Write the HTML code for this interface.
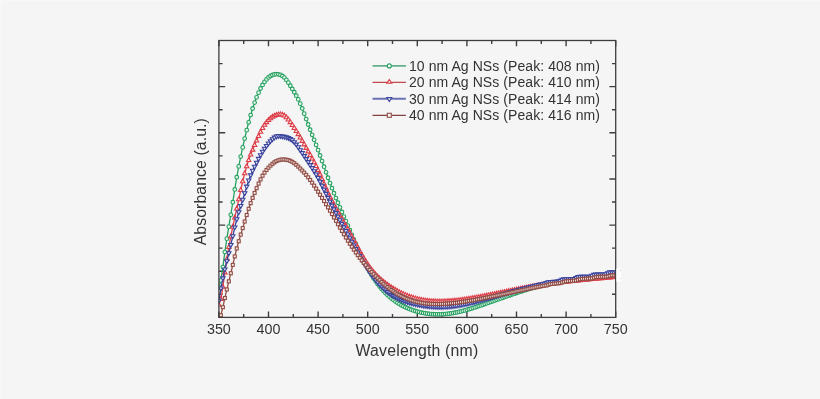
<!DOCTYPE html>
<html><head><meta charset="utf-8"><style>
html,body{margin:0;padding:0;background:#f5f5f5;width:820px;height:399px;overflow:hidden}
svg{position:absolute;left:0;top:0;will-change:transform} svg text{font-family:"Liberation Sans",sans-serif}
</style></head><body>
<svg width="820" height="399" viewBox="0 0 820 399">
<defs><clipPath id="pc"><rect x="218.9" y="40.5" width="396.8" height="276.9"/></clipPath></defs>
<path d="M218.9,317.4v-5.8M218.9,40.5v5.8M243.7,317.4v-3.4M243.7,40.5v3.4M268.5,317.4v-5.8M268.5,40.5v5.8M293.3,317.4v-3.4M293.3,40.5v3.4M318.1,317.4v-5.8M318.1,40.5v5.8M342.9,317.4v-3.4M342.9,40.5v3.4M367.7,317.4v-5.8M367.7,40.5v5.8M392.5,317.4v-3.4M392.5,40.5v3.4M417.3,317.4v-5.8M417.3,40.5v5.8M442.1,317.4v-3.4M442.1,40.5v3.4M466.9,317.4v-5.8M466.9,40.5v5.8M491.7,317.4v-3.4M491.7,40.5v3.4M516.5,317.4v-5.8M516.5,40.5v5.8M541.3,317.4v-3.4M541.3,40.5v3.4M566.1,317.4v-5.8M566.1,40.5v5.8M590.9,317.4v-3.4M590.9,40.5v3.4M615.7,317.4v-5.8M615.7,40.5v5.8M218.9,63.58h3.7M615.7,63.58h-3.7M218.9,86.65h6.3M615.7,86.65h-6.3M218.9,109.72h3.7M615.7,109.72h-3.7M218.9,132.8h6.3M615.7,132.8h-6.3M218.9,155.88h3.7M615.7,155.88h-3.7M218.9,178.95h6.3M615.7,178.95h-6.3M218.9,202.02h3.7M615.7,202.02h-3.7M218.9,225.1h6.3M615.7,225.1h-6.3M218.9,248.17h3.7M615.7,248.17h-3.7M218.9,271.25h6.3M615.7,271.25h-6.3M218.9,294.32h3.7M615.7,294.32h-3.7" stroke="#3e3e3e" stroke-width="1.4" fill="none"/>
<g clip-path="url(#pc)">
<path d="M218.9,287.4L220.88,280.38L222.87,267.12L224.85,252.04L226.84,238.65L228.82,226.65L230.8,214.8L232.79,202.23L234.77,189.43L236.76,177.27L238.74,166.38L240.72,156.57L242.71,147.41L244.69,138.59L246.68,130.16L248.66,122.28L250.64,115.06L252.63,108.52L254.61,102.62L256.6,97.33L258.58,92.63L260.56,88.5L262.55,84.93L264.53,81.91L266.52,79.42L268.5,77.44L270.48,75.98L272.47,74.98L274.45,74.4L276.44,74.2L278.42,74.34L280.4,74.9L282.39,75.96L284.37,77.6L286.36,79.88L288.34,82.65L290.32,85.75L292.31,88.99L294.29,92.27L296.28,95.68L298.26,99.41L300.24,103.63L302.23,108.43L304.21,113.66L306.2,119.1L308.18,124.51L310.16,129.74L312.15,134.81L314.13,139.83L316.12,144.89L318.1,150.1L320.08,155.51L322.07,161.07L324.05,166.69L326.04,172.29L328.02,177.77L330,183.08L331.99,188.21L333.97,193.18L335.96,198.03L337.94,202.77L339.92,207.42L341.91,212.02L343.89,216.57L345.88,221.11L347.86,225.66L349.84,230.22L351.83,234.79L353.81,239.34L355.8,243.85L357.78,248.29L359.76,252.63L361.75,256.85L363.73,260.92L365.72,264.82L367.7,268.53L369.68,272.03L371.67,275.31L373.65,278.4L375.64,281.28L377.62,283.99L379.6,286.52L381.59,288.88L383.57,291.09L385.56,293.15L387.54,295.08L389.52,296.87L391.51,298.54L393.49,300.09L395.48,301.53L397.46,302.86L399.44,304.09L401.43,305.23L403.41,306.27L405.4,307.24L407.38,308.12L409.36,308.94L411.35,309.69L413.33,310.38L415.32,311.01L417.3,311.58L419.28,312.1L421.27,312.56L423.25,312.97L425.24,313.32L427.22,313.63L429.2,313.87L431.19,314.07L433.17,314.22L435.16,314.32L437.14,314.36L439.12,314.36L441.11,314.31L443.09,314.21L445.08,314.07L447.06,313.88L449.04,313.64L451.03,313.37L453.01,313.05L455,312.69L456.98,312.29L458.96,311.86L460.95,311.4L462.93,310.9L464.92,310.38L466.9,309.83L468.88,309.26L470.87,308.67L472.85,308.05L474.84,307.42L476.82,306.77L478.8,306.11L480.79,305.44L482.77,304.76L484.76,304.07L486.74,303.37L488.72,302.67L490.71,301.97L492.69,301.27L494.68,300.57L496.66,299.87L498.64,299.17L500.63,298.46L502.61,297.76L504.6,297.07L506.58,296.37L508.56,295.69L510.55,295L512.53,294.32L514.52,293.65L516.5,292.98L518.48,292.33L520.47,291.68L522.45,291.03L524.44,290.4L526.42,289.78L528.4,289.17L530.39,288.57L532.37,287.99L534.36,287.42L536.34,286.86L538.32,286.31L540.31,285.78L542.29,285.27L544.28,284.78L546.26,284.3L548.24,283.84L550.23,283.39L552.21,282.97L554.2,282.56L556.18,282.16L558.16,281.78L560.15,281.41L562.13,281.06L564.12,280.72L566.1,280.39L568.08,280.07L570.07,279.76L572.05,279.46L574.04,279.17L576.02,278.89L578,278.62L579.99,278.35L581.97,278.09L583.96,277.83L585.94,277.58L587.92,277.33L589.91,277.08L591.89,276.84L593.88,276.6L595.86,276.36L597.84,276.12L599.83,275.88L601.81,275.64L603.8,275.39L605.78,275.15L607.76,274.9L609.75,274.64L611.73,274.38L613.72,274.12L615.7,273.85" fill="none" stroke="#26a060" stroke-width="1.3"/>
<g fill="#e6f7ec" stroke="#26a060" stroke-width="1.1"><circle cx="218.9" cy="287.4" r="1.85"/><circle cx="220.88" cy="280.38" r="1.85"/><circle cx="222.87" cy="267.12" r="1.85"/><circle cx="224.85" cy="252.04" r="1.85"/><circle cx="226.84" cy="238.65" r="1.85"/><circle cx="228.82" cy="226.65" r="1.85"/><circle cx="230.8" cy="214.8" r="1.85"/><circle cx="232.79" cy="202.23" r="1.85"/><circle cx="234.77" cy="189.43" r="1.85"/><circle cx="236.76" cy="177.27" r="1.85"/><circle cx="238.74" cy="166.38" r="1.85"/><circle cx="240.72" cy="156.57" r="1.85"/><circle cx="242.71" cy="147.41" r="1.85"/><circle cx="244.69" cy="138.59" r="1.85"/><circle cx="246.68" cy="130.16" r="1.85"/><circle cx="248.66" cy="122.28" r="1.85"/><circle cx="250.64" cy="115.06" r="1.85"/><circle cx="252.63" cy="108.52" r="1.85"/><circle cx="254.61" cy="102.62" r="1.85"/><circle cx="256.6" cy="97.33" r="1.85"/><circle cx="258.58" cy="92.63" r="1.85"/><circle cx="260.56" cy="88.5" r="1.85"/><circle cx="262.55" cy="84.93" r="1.85"/><circle cx="264.53" cy="81.91" r="1.85"/><circle cx="266.52" cy="79.42" r="1.85"/><circle cx="268.5" cy="77.44" r="1.85"/><circle cx="270.48" cy="75.98" r="1.85"/><circle cx="272.47" cy="74.98" r="1.85"/><circle cx="274.45" cy="74.4" r="1.85"/><circle cx="276.44" cy="74.2" r="1.85"/><circle cx="278.42" cy="74.34" r="1.85"/><circle cx="280.4" cy="74.9" r="1.85"/><circle cx="282.39" cy="75.96" r="1.85"/><circle cx="284.37" cy="77.6" r="1.85"/><circle cx="286.36" cy="79.88" r="1.85"/><circle cx="288.34" cy="82.65" r="1.85"/><circle cx="290.32" cy="85.75" r="1.85"/><circle cx="292.31" cy="88.99" r="1.85"/><circle cx="294.29" cy="92.27" r="1.85"/><circle cx="296.28" cy="95.68" r="1.85"/><circle cx="298.26" cy="99.41" r="1.85"/><circle cx="300.24" cy="103.63" r="1.85"/><circle cx="302.23" cy="108.43" r="1.85"/><circle cx="304.21" cy="113.66" r="1.85"/><circle cx="306.2" cy="119.1" r="1.85"/><circle cx="308.18" cy="124.51" r="1.85"/><circle cx="310.16" cy="129.74" r="1.85"/><circle cx="312.15" cy="134.81" r="1.85"/><circle cx="314.13" cy="139.83" r="1.85"/><circle cx="316.12" cy="144.89" r="1.85"/><circle cx="318.1" cy="150.1" r="1.85"/><circle cx="320.08" cy="155.51" r="1.85"/><circle cx="322.07" cy="161.07" r="1.85"/><circle cx="324.05" cy="166.69" r="1.85"/><circle cx="326.04" cy="172.29" r="1.85"/><circle cx="328.02" cy="177.77" r="1.85"/><circle cx="330" cy="183.08" r="1.85"/><circle cx="331.99" cy="188.21" r="1.85"/><circle cx="333.97" cy="193.18" r="1.85"/><circle cx="335.96" cy="198.03" r="1.85"/><circle cx="337.94" cy="202.77" r="1.85"/><circle cx="339.92" cy="207.42" r="1.85"/><circle cx="341.91" cy="212.02" r="1.85"/><circle cx="343.89" cy="216.57" r="1.85"/><circle cx="345.88" cy="221.11" r="1.85"/><circle cx="347.86" cy="225.66" r="1.85"/><circle cx="349.84" cy="230.22" r="1.85"/><circle cx="351.83" cy="234.79" r="1.85"/><circle cx="353.81" cy="239.34" r="1.85"/><circle cx="355.8" cy="243.85" r="1.85"/><circle cx="357.78" cy="248.29" r="1.85"/><circle cx="359.76" cy="252.63" r="1.85"/><circle cx="361.75" cy="256.85" r="1.85"/><circle cx="363.73" cy="260.92" r="1.85"/><circle cx="365.72" cy="264.82" r="1.85"/><circle cx="367.7" cy="268.53" r="1.85"/><circle cx="369.68" cy="272.03" r="1.85"/><circle cx="371.67" cy="275.31" r="1.85"/><circle cx="373.65" cy="278.4" r="1.85"/><circle cx="375.64" cy="281.28" r="1.85"/><circle cx="377.62" cy="283.99" r="1.85"/><circle cx="379.6" cy="286.52" r="1.85"/><circle cx="381.59" cy="288.88" r="1.85"/><circle cx="383.57" cy="291.09" r="1.85"/><circle cx="385.56" cy="293.15" r="1.85"/><circle cx="387.54" cy="295.08" r="1.85"/><circle cx="389.52" cy="296.87" r="1.85"/><circle cx="391.51" cy="298.54" r="1.85"/><circle cx="393.49" cy="300.09" r="1.85"/><circle cx="395.48" cy="301.53" r="1.85"/><circle cx="397.46" cy="302.86" r="1.85"/><circle cx="399.44" cy="304.09" r="1.85"/><circle cx="401.43" cy="305.23" r="1.85"/><circle cx="403.41" cy="306.27" r="1.85"/><circle cx="405.4" cy="307.24" r="1.85"/><circle cx="407.38" cy="308.12" r="1.85"/><circle cx="409.36" cy="308.94" r="1.85"/><circle cx="411.35" cy="309.69" r="1.85"/><circle cx="413.33" cy="310.38" r="1.85"/><circle cx="415.32" cy="311.01" r="1.85"/><circle cx="417.3" cy="311.58" r="1.85"/><circle cx="419.28" cy="312.1" r="1.85"/><circle cx="421.27" cy="312.56" r="1.85"/><circle cx="423.25" cy="312.97" r="1.85"/><circle cx="425.24" cy="313.32" r="1.85"/><circle cx="427.22" cy="313.63" r="1.85"/><circle cx="429.2" cy="313.87" r="1.85"/><circle cx="431.19" cy="314.07" r="1.85"/><circle cx="433.17" cy="314.22" r="1.85"/><circle cx="435.16" cy="314.32" r="1.85"/><circle cx="437.14" cy="314.36" r="1.85"/><circle cx="439.12" cy="314.36" r="1.85"/><circle cx="441.11" cy="314.31" r="1.85"/><circle cx="443.09" cy="314.21" r="1.85"/><circle cx="445.08" cy="314.07" r="1.85"/><circle cx="447.06" cy="313.88" r="1.85"/><circle cx="449.04" cy="313.64" r="1.85"/><circle cx="451.03" cy="313.37" r="1.85"/><circle cx="453.01" cy="313.05" r="1.85"/><circle cx="455" cy="312.69" r="1.85"/><circle cx="456.98" cy="312.29" r="1.85"/><circle cx="458.96" cy="311.86" r="1.85"/><circle cx="460.95" cy="311.4" r="1.85"/><circle cx="462.93" cy="310.9" r="1.85"/><circle cx="464.92" cy="310.38" r="1.85"/><circle cx="466.9" cy="309.83" r="1.85"/><circle cx="468.88" cy="309.26" r="1.85"/><circle cx="470.87" cy="308.67" r="1.85"/><circle cx="472.85" cy="308.05" r="1.85"/><circle cx="474.84" cy="307.42" r="1.85"/><circle cx="476.82" cy="306.77" r="1.85"/><circle cx="478.8" cy="306.11" r="1.85"/><circle cx="480.79" cy="305.44" r="1.85"/><circle cx="482.77" cy="304.76" r="1.85"/><circle cx="484.76" cy="304.07" r="1.85"/><circle cx="486.74" cy="303.37" r="1.85"/><circle cx="488.72" cy="302.67" r="1.85"/><circle cx="490.71" cy="301.97" r="1.85"/><circle cx="492.69" cy="301.27" r="1.85"/><circle cx="494.68" cy="300.57" r="1.85"/><circle cx="496.66" cy="299.87" r="1.85"/><circle cx="498.64" cy="299.17" r="1.85"/><circle cx="500.63" cy="298.46" r="1.85"/><circle cx="502.61" cy="297.76" r="1.85"/><circle cx="504.6" cy="297.07" r="1.85"/><circle cx="506.58" cy="296.37" r="1.85"/><circle cx="508.56" cy="295.69" r="1.85"/><circle cx="510.55" cy="295" r="1.85"/><circle cx="512.53" cy="294.32" r="1.85"/><circle cx="514.52" cy="293.65" r="1.85"/><circle cx="516.5" cy="292.98" r="1.85"/><circle cx="518.48" cy="292.33" r="1.85"/><circle cx="520.47" cy="291.68" r="1.85"/><circle cx="522.45" cy="291.03" r="1.85"/><circle cx="524.44" cy="290.4" r="1.85"/><circle cx="526.42" cy="289.78" r="1.85"/><circle cx="528.4" cy="289.17" r="1.85"/><circle cx="530.39" cy="288.57" r="1.85"/><circle cx="532.37" cy="287.99" r="1.85"/><circle cx="534.36" cy="287.42" r="1.85"/><circle cx="536.34" cy="286.86" r="1.85"/><circle cx="538.32" cy="286.31" r="1.85"/><circle cx="540.31" cy="285.78" r="1.85"/><circle cx="542.29" cy="285.27" r="1.85"/><circle cx="544.28" cy="284.78" r="1.85"/><circle cx="546.26" cy="284.3" r="1.85"/><circle cx="548.24" cy="283.84" r="1.85"/><circle cx="550.23" cy="283.39" r="1.85"/><circle cx="552.21" cy="282.97" r="1.85"/><circle cx="554.2" cy="282.56" r="1.85"/><circle cx="556.18" cy="282.16" r="1.85"/><circle cx="558.16" cy="281.78" r="1.85"/><circle cx="560.15" cy="281.41" r="1.85"/><circle cx="562.13" cy="281.06" r="1.85"/><circle cx="564.12" cy="280.72" r="1.85"/><circle cx="566.1" cy="280.39" r="1.85"/><circle cx="568.08" cy="280.07" r="1.85"/><circle cx="570.07" cy="279.76" r="1.85"/><circle cx="572.05" cy="279.46" r="1.85"/><circle cx="574.04" cy="279.17" r="1.85"/><circle cx="576.02" cy="278.89" r="1.85"/><circle cx="578" cy="278.62" r="1.85"/><circle cx="579.99" cy="278.35" r="1.85"/><circle cx="581.97" cy="278.09" r="1.85"/><circle cx="583.96" cy="277.83" r="1.85"/><circle cx="585.94" cy="277.58" r="1.85"/><circle cx="587.92" cy="277.33" r="1.85"/><circle cx="589.91" cy="277.08" r="1.85"/><circle cx="591.89" cy="276.84" r="1.85"/><circle cx="593.88" cy="276.6" r="1.85"/><circle cx="595.86" cy="276.36" r="1.85"/><circle cx="597.84" cy="276.12" r="1.85"/><circle cx="599.83" cy="275.88" r="1.85"/><circle cx="601.81" cy="275.64" r="1.85"/><circle cx="603.8" cy="275.39" r="1.85"/><circle cx="605.78" cy="275.15" r="1.85"/><circle cx="607.76" cy="274.9" r="1.85"/><circle cx="609.75" cy="274.64" r="1.85"/><circle cx="611.73" cy="274.38" r="1.85"/><circle cx="613.72" cy="274.12" r="1.85"/><circle cx="615.7" cy="273.85" r="1.85"/></g>
<path d="M218.9,304.8L220.88,298.98L222.87,286.84L224.85,272.41L226.84,259.01L228.82,247.11L230.8,236.46L232.79,226.77L234.77,217.62L236.76,208.57L238.74,199.29L240.72,190.07L242.71,181.32L244.69,173.37L246.68,166.27L248.66,160.03L250.64,154.56L252.63,149.67L254.61,145.08L256.6,140.55L258.58,136.05L260.56,131.79L262.55,127.99L264.53,124.79L266.52,122.16L268.5,120.01L270.48,118.26L272.47,116.86L274.45,115.79L276.44,114.99L278.42,114.47L280.4,114.31L282.39,114.65L284.37,115.61L286.36,117.26L288.34,119.49L290.32,122.13L292.31,125L294.29,127.99L296.28,131.05L298.26,134.22L300.24,137.5L302.23,140.89L304.21,144.38L306.2,147.91L308.18,151.45L310.16,154.99L312.15,158.56L314.13,162.23L316.12,166.08L318.1,170.16L320.08,174.51L322.07,179.06L324.05,183.68L326.04,188.27L328.02,192.71L330,196.92L331.99,200.9L333.97,204.7L335.96,208.34L337.94,211.87L339.92,215.32L341.91,218.73L343.89,222.14L345.88,225.58L347.86,229.09L349.84,232.69L351.83,236.36L353.81,240.07L355.8,243.78L357.78,247.47L359.76,251.09L361.75,254.62L363.73,258.01L365.72,261.25L367.7,264.29L369.68,267.11L371.67,269.71L373.65,272.12L375.64,274.34L377.62,276.4L379.6,278.31L381.59,280.09L383.57,281.75L385.56,283.31L387.54,284.78L389.52,286.18L391.51,287.52L393.49,288.78L395.48,289.98L397.46,291.11L399.44,292.17L401.43,293.18L403.41,294.11L405.4,294.99L407.38,295.8L409.36,296.55L411.35,297.24L413.33,297.87L415.32,298.44L417.3,298.95L419.28,299.41L421.27,299.82L423.25,300.18L425.24,300.48L427.22,300.75L429.2,300.96L431.19,301.14L433.17,301.27L435.16,301.36L437.14,301.42L439.12,301.44L441.11,301.43L443.09,301.39L445.08,301.33L447.06,301.23L449.04,301.11L451.03,300.97L453.01,300.8L455,300.61L456.98,300.4L458.96,300.17L460.95,299.93L462.93,299.66L464.92,299.38L466.9,299.09L468.88,298.78L470.87,298.45L472.85,298.12L474.84,297.77L476.82,297.42L478.8,297.05L480.79,296.68L482.77,296.3L484.76,295.92L486.74,295.53L488.72,295.14L490.71,294.74L492.69,294.34L494.68,293.94L496.66,293.54L498.64,293.14L500.63,292.73L502.61,292.33L504.6,291.92L506.58,291.52L508.56,291.12L510.55,290.72L512.53,290.32L514.52,289.92L516.5,289.52L518.48,289.13L520.47,288.74L522.45,288.36L524.44,287.98L526.42,287.6L528.4,287.23L530.39,286.87L532.37,286.51L534.36,286.15L536.34,285.81L538.32,285.47L540.31,285.14L542.29,284.82L544.28,284.51L546.26,284.21L548.24,283.91L550.23,283.63L552.21,283.35L554.2,283.09L556.18,282.83L558.16,282.58L560.15,282.33L562.13,282.1L564.12,281.87L566.1,281.64L568.08,281.42L570.07,281.21L572.05,281L574.04,280.79L576.02,280.59L578,280.4L579.99,280.2L581.97,280.01L583.96,279.82L585.94,279.64L587.92,279.45L589.91,279.27L591.89,279.08L593.88,278.9L595.86,278.72L597.84,278.53L599.83,278.35L601.81,278.16L603.8,277.98L605.78,277.79L607.76,277.6L609.75,277.4L611.73,277.2L613.72,277L615.7,276.79" fill="none" stroke="#dc3e48" stroke-width="1.3"/>
<g fill="#fbe8e8" stroke="#dc3e48" stroke-width="1.1"><path d="M218.9,302.4L221.1,306.25L216.7,306.25Z"/><path d="M220.88,296.58L223.08,300.43L218.68,300.43Z"/><path d="M222.87,284.44L225.07,288.29L220.67,288.29Z"/><path d="M224.85,270.01L227.05,273.86L222.65,273.86Z"/><path d="M226.84,256.61L229.04,260.46L224.64,260.46Z"/><path d="M228.82,244.71L231.02,248.56L226.62,248.56Z"/><path d="M230.8,234.06L233,237.91L228.6,237.91Z"/><path d="M232.79,224.37L234.99,228.22L230.59,228.22Z"/><path d="M234.77,215.22L236.97,219.07L232.57,219.07Z"/><path d="M236.76,206.17L238.96,210.02L234.56,210.02Z"/><path d="M238.74,196.89L240.94,200.74L236.54,200.74Z"/><path d="M240.72,187.67L242.92,191.52L238.52,191.52Z"/><path d="M242.71,178.92L244.91,182.77L240.51,182.77Z"/><path d="M244.69,170.97L246.89,174.82L242.49,174.82Z"/><path d="M246.68,163.87L248.88,167.72L244.48,167.72Z"/><path d="M248.66,157.63L250.86,161.48L246.46,161.48Z"/><path d="M250.64,152.16L252.84,156.01L248.44,156.01Z"/><path d="M252.63,147.27L254.83,151.12L250.43,151.12Z"/><path d="M254.61,142.68L256.81,146.53L252.41,146.53Z"/><path d="M256.6,138.15L258.8,142L254.4,142Z"/><path d="M258.58,133.65L260.78,137.5L256.38,137.5Z"/><path d="M260.56,129.39L262.76,133.24L258.36,133.24Z"/><path d="M262.55,125.59L264.75,129.44L260.35,129.44Z"/><path d="M264.53,122.39L266.73,126.24L262.33,126.24Z"/><path d="M266.52,119.76L268.72,123.61L264.32,123.61Z"/><path d="M268.5,117.61L270.7,121.46L266.3,121.46Z"/><path d="M270.48,115.86L272.68,119.71L268.28,119.71Z"/><path d="M272.47,114.46L274.67,118.31L270.27,118.31Z"/><path d="M274.45,113.39L276.65,117.24L272.25,117.24Z"/><path d="M276.44,112.59L278.64,116.44L274.24,116.44Z"/><path d="M278.42,112.07L280.62,115.92L276.22,115.92Z"/><path d="M280.4,111.91L282.6,115.76L278.2,115.76Z"/><path d="M282.39,112.25L284.59,116.1L280.19,116.1Z"/><path d="M284.37,113.21L286.57,117.06L282.17,117.06Z"/><path d="M286.36,114.86L288.56,118.71L284.16,118.71Z"/><path d="M288.34,117.09L290.54,120.94L286.14,120.94Z"/><path d="M290.32,119.73L292.52,123.58L288.12,123.58Z"/><path d="M292.31,122.6L294.51,126.45L290.11,126.45Z"/><path d="M294.29,125.59L296.49,129.44L292.09,129.44Z"/><path d="M296.28,128.65L298.48,132.5L294.08,132.5Z"/><path d="M298.26,131.82L300.46,135.67L296.06,135.67Z"/><path d="M300.24,135.1L302.44,138.95L298.04,138.95Z"/><path d="M302.23,138.49L304.43,142.34L300.03,142.34Z"/><path d="M304.21,141.98L306.41,145.83L302.01,145.83Z"/><path d="M306.2,145.51L308.4,149.36L304,149.36Z"/><path d="M308.18,149.05L310.38,152.9L305.98,152.9Z"/><path d="M310.16,152.59L312.36,156.44L307.96,156.44Z"/><path d="M312.15,156.16L314.35,160.01L309.95,160.01Z"/><path d="M314.13,159.83L316.33,163.68L311.93,163.68Z"/><path d="M316.12,163.68L318.32,167.53L313.92,167.53Z"/><path d="M318.1,167.76L320.3,171.61L315.9,171.61Z"/><path d="M320.08,172.11L322.28,175.96L317.88,175.96Z"/><path d="M322.07,176.66L324.27,180.51L319.87,180.51Z"/><path d="M324.05,181.28L326.25,185.13L321.85,185.13Z"/><path d="M326.04,185.87L328.24,189.72L323.84,189.72Z"/><path d="M328.02,190.31L330.22,194.16L325.82,194.16Z"/><path d="M330,194.52L332.2,198.37L327.8,198.37Z"/><path d="M331.99,198.5L334.19,202.35L329.79,202.35Z"/><path d="M333.97,202.3L336.17,206.15L331.77,206.15Z"/><path d="M335.96,205.94L338.16,209.79L333.76,209.79Z"/><path d="M337.94,209.47L340.14,213.32L335.74,213.32Z"/><path d="M339.92,212.92L342.12,216.77L337.72,216.77Z"/><path d="M341.91,216.33L344.11,220.18L339.71,220.18Z"/><path d="M343.89,219.74L346.09,223.59L341.69,223.59Z"/><path d="M345.88,223.18L348.08,227.03L343.68,227.03Z"/><path d="M347.86,226.69L350.06,230.54L345.66,230.54Z"/><path d="M349.84,230.29L352.04,234.14L347.64,234.14Z"/><path d="M351.83,233.96L354.03,237.81L349.63,237.81Z"/><path d="M353.81,237.67L356.01,241.52L351.61,241.52Z"/><path d="M355.8,241.38L358,245.23L353.6,245.23Z"/><path d="M357.78,245.07L359.98,248.92L355.58,248.92Z"/><path d="M359.76,248.69L361.96,252.54L357.56,252.54Z"/><path d="M361.75,252.22L363.95,256.07L359.55,256.07Z"/><path d="M363.73,255.61L365.93,259.46L361.53,259.46Z"/><path d="M365.72,258.85L367.92,262.7L363.52,262.7Z"/><path d="M367.7,261.89L369.9,265.74L365.5,265.74Z"/><path d="M369.68,264.71L371.88,268.56L367.48,268.56Z"/><path d="M371.67,267.31L373.87,271.16L369.47,271.16Z"/><path d="M373.65,269.72L375.85,273.57L371.45,273.57Z"/><path d="M375.64,271.94L377.84,275.79L373.44,275.79Z"/><path d="M377.62,274L379.82,277.85L375.42,277.85Z"/><path d="M379.6,275.91L381.8,279.76L377.4,279.76Z"/><path d="M381.59,277.69L383.79,281.54L379.39,281.54Z"/><path d="M383.57,279.35L385.77,283.2L381.37,283.2Z"/><path d="M385.56,280.91L387.76,284.76L383.36,284.76Z"/><path d="M387.54,282.38L389.74,286.23L385.34,286.23Z"/><path d="M389.52,283.78L391.72,287.63L387.32,287.63Z"/><path d="M391.51,285.12L393.71,288.97L389.31,288.97Z"/><path d="M393.49,286.38L395.69,290.23L391.29,290.23Z"/><path d="M395.48,287.58L397.68,291.43L393.28,291.43Z"/><path d="M397.46,288.71L399.66,292.56L395.26,292.56Z"/><path d="M399.44,289.77L401.64,293.62L397.24,293.62Z"/><path d="M401.43,290.78L403.63,294.63L399.23,294.63Z"/><path d="M403.41,291.71L405.61,295.56L401.21,295.56Z"/><path d="M405.4,292.59L407.6,296.44L403.2,296.44Z"/><path d="M407.38,293.4L409.58,297.25L405.18,297.25Z"/><path d="M409.36,294.15L411.56,298L407.16,298Z"/><path d="M411.35,294.84L413.55,298.69L409.15,298.69Z"/><path d="M413.33,295.47L415.53,299.32L411.13,299.32Z"/><path d="M415.32,296.04L417.52,299.89L413.12,299.89Z"/><path d="M417.3,296.55L419.5,300.4L415.1,300.4Z"/><path d="M419.28,297.01L421.48,300.86L417.08,300.86Z"/><path d="M421.27,297.42L423.47,301.27L419.07,301.27Z"/><path d="M423.25,297.78L425.45,301.63L421.05,301.63Z"/><path d="M425.24,298.08L427.44,301.93L423.04,301.93Z"/><path d="M427.22,298.35L429.42,302.2L425.02,302.2Z"/><path d="M429.2,298.56L431.4,302.41L427,302.41Z"/><path d="M431.19,298.74L433.39,302.59L428.99,302.59Z"/><path d="M433.17,298.87L435.37,302.72L430.97,302.72Z"/><path d="M435.16,298.96L437.36,302.81L432.96,302.81Z"/><path d="M437.14,299.02L439.34,302.87L434.94,302.87Z"/><path d="M439.12,299.04L441.32,302.89L436.92,302.89Z"/><path d="M441.11,299.03L443.31,302.88L438.91,302.88Z"/><path d="M443.09,298.99L445.29,302.84L440.89,302.84Z"/><path d="M445.08,298.93L447.28,302.78L442.88,302.78Z"/><path d="M447.06,298.83L449.26,302.68L444.86,302.68Z"/><path d="M449.04,298.71L451.24,302.56L446.84,302.56Z"/><path d="M451.03,298.57L453.23,302.42L448.83,302.42Z"/><path d="M453.01,298.4L455.21,302.25L450.81,302.25Z"/><path d="M455,298.21L457.2,302.06L452.8,302.06Z"/><path d="M456.98,298L459.18,301.85L454.78,301.85Z"/><path d="M458.96,297.77L461.16,301.62L456.76,301.62Z"/><path d="M460.95,297.53L463.15,301.38L458.75,301.38Z"/><path d="M462.93,297.26L465.13,301.11L460.73,301.11Z"/><path d="M464.92,296.98L467.12,300.83L462.72,300.83Z"/><path d="M466.9,296.69L469.1,300.54L464.7,300.54Z"/><path d="M468.88,296.38L471.08,300.23L466.68,300.23Z"/><path d="M470.87,296.05L473.07,299.9L468.67,299.9Z"/><path d="M472.85,295.72L475.05,299.57L470.65,299.57Z"/><path d="M474.84,295.37L477.04,299.22L472.64,299.22Z"/><path d="M476.82,295.02L479.02,298.87L474.62,298.87Z"/><path d="M478.8,294.65L481,298.5L476.6,298.5Z"/><path d="M480.79,294.28L482.99,298.13L478.59,298.13Z"/><path d="M482.77,293.9L484.97,297.75L480.57,297.75Z"/><path d="M484.76,293.52L486.96,297.37L482.56,297.37Z"/><path d="M486.74,293.13L488.94,296.98L484.54,296.98Z"/><path d="M488.72,292.74L490.92,296.59L486.52,296.59Z"/><path d="M490.71,292.34L492.91,296.19L488.51,296.19Z"/><path d="M492.69,291.94L494.89,295.79L490.49,295.79Z"/><path d="M494.68,291.54L496.88,295.39L492.48,295.39Z"/><path d="M496.66,291.14L498.86,294.99L494.46,294.99Z"/><path d="M498.64,290.74L500.84,294.59L496.44,294.59Z"/><path d="M500.63,290.33L502.83,294.18L498.43,294.18Z"/><path d="M502.61,289.93L504.81,293.78L500.41,293.78Z"/><path d="M504.6,289.52L506.8,293.37L502.4,293.37Z"/><path d="M506.58,289.12L508.78,292.97L504.38,292.97Z"/><path d="M508.56,288.72L510.76,292.57L506.36,292.57Z"/><path d="M510.55,288.32L512.75,292.17L508.35,292.17Z"/><path d="M512.53,287.92L514.73,291.77L510.33,291.77Z"/><path d="M514.52,287.52L516.72,291.37L512.32,291.37Z"/><path d="M516.5,287.12L518.7,290.97L514.3,290.97Z"/><path d="M518.48,286.73L520.68,290.58L516.28,290.58Z"/><path d="M520.47,286.34L522.67,290.19L518.27,290.19Z"/><path d="M522.45,285.96L524.65,289.81L520.25,289.81Z"/><path d="M524.44,285.58L526.64,289.43L522.24,289.43Z"/><path d="M526.42,285.2L528.62,289.05L524.22,289.05Z"/><path d="M528.4,284.83L530.6,288.68L526.2,288.68Z"/><path d="M530.39,284.47L532.59,288.32L528.19,288.32Z"/><path d="M532.37,284.11L534.57,287.96L530.17,287.96Z"/><path d="M534.36,283.75L536.56,287.6L532.16,287.6Z"/><path d="M536.34,283.41L538.54,287.26L534.14,287.26Z"/><path d="M538.32,283.07L540.52,286.92L536.12,286.92Z"/><path d="M540.31,282.74L542.51,286.59L538.11,286.59Z"/><path d="M542.29,282.42L544.49,286.27L540.09,286.27Z"/><path d="M544.28,282.11L546.48,285.96L542.08,285.96Z"/><path d="M546.26,281.81L548.46,285.66L544.06,285.66Z"/><path d="M548.24,281.51L550.44,285.36L546.04,285.36Z"/><path d="M550.23,281.23L552.43,285.08L548.03,285.08Z"/><path d="M552.21,280.95L554.41,284.8L550.01,284.8Z"/><path d="M554.2,280.69L556.4,284.54L552,284.54Z"/><path d="M556.18,280.43L558.38,284.28L553.98,284.28Z"/><path d="M558.16,280.18L560.36,284.03L555.96,284.03Z"/><path d="M560.15,279.93L562.35,283.78L557.95,283.78Z"/><path d="M562.13,279.7L564.33,283.55L559.93,283.55Z"/><path d="M564.12,279.47L566.32,283.32L561.92,283.32Z"/><path d="M566.1,279.24L568.3,283.09L563.9,283.09Z"/><path d="M568.08,279.02L570.28,282.87L565.88,282.87Z"/><path d="M570.07,278.81L572.27,282.66L567.87,282.66Z"/><path d="M572.05,278.6L574.25,282.45L569.85,282.45Z"/><path d="M574.04,278.39L576.24,282.24L571.84,282.24Z"/><path d="M576.02,278.19L578.22,282.04L573.82,282.04Z"/><path d="M578,278L580.2,281.85L575.8,281.85Z"/><path d="M579.99,277.8L582.19,281.65L577.79,281.65Z"/><path d="M581.97,277.61L584.17,281.46L579.77,281.46Z"/><path d="M583.96,277.42L586.16,281.27L581.76,281.27Z"/><path d="M585.94,277.24L588.14,281.09L583.74,281.09Z"/><path d="M587.92,277.05L590.12,280.9L585.72,280.9Z"/><path d="M589.91,276.87L592.11,280.72L587.71,280.72Z"/><path d="M591.89,276.68L594.09,280.53L589.69,280.53Z"/><path d="M593.88,276.5L596.08,280.35L591.68,280.35Z"/><path d="M595.86,276.32L598.06,280.17L593.66,280.17Z"/><path d="M597.84,276.13L600.04,279.98L595.64,279.98Z"/><path d="M599.83,275.95L602.03,279.8L597.63,279.8Z"/><path d="M601.81,275.76L604.01,279.61L599.61,279.61Z"/><path d="M603.8,275.58L606,279.43L601.6,279.43Z"/><path d="M605.78,275.39L607.98,279.24L603.58,279.24Z"/><path d="M607.76,275.2L609.96,279.05L605.56,279.05Z"/><path d="M609.75,275L611.95,278.85L607.55,278.85Z"/><path d="M611.73,274.8L613.93,278.65L609.53,278.65Z"/><path d="M613.72,274.6L615.92,278.45L611.52,278.45Z"/><path d="M615.7,274.39L617.9,278.24L613.5,278.24Z"/></g>
<path d="M218.9,300.59L220.88,288.47L222.87,278.3L224.85,269.43L226.84,261.23L228.82,253.23L230.8,244.98L232.79,236.2L234.77,227.41L236.76,219.27L238.74,212.26L240.72,205.97L242.71,199.77L244.69,193.21L246.68,186.62L248.66,180.52L250.64,175.28L252.63,170.75L254.61,166.65L256.6,162.71L258.58,158.85L260.56,155.16L262.55,151.74L264.53,148.69L266.52,145.95L268.5,143.45L270.48,141.15L272.47,139.13L274.45,137.53L276.44,136.46L278.42,136L280.4,136.03L282.39,136.38L284.37,136.86L286.36,137.36L288.34,137.98L290.32,138.89L292.31,140.25L294.29,142.16L296.28,144.54L298.26,147.25L300.24,150.14L302.23,153.1L304.21,156.09L306.2,159.09L308.18,162.09L310.16,165.08L312.15,168.11L314.13,171.24L316.12,174.52L318.1,178.01L320.08,181.74L322.07,185.67L324.05,189.71L326.04,193.79L328.02,197.83L330,201.77L331.99,205.61L333.97,209.36L335.96,213.04L337.94,216.67L339.92,220.26L341.91,223.82L343.89,227.37L345.88,230.93L347.86,234.51L349.84,238.13L351.83,241.76L353.81,245.38L355.8,248.99L357.78,252.56L359.76,256.08L361.75,259.51L363.73,262.86L365.72,266.08L367.7,269.18L369.68,272.13L371.67,274.92L373.65,277.57L375.64,280.07L377.62,282.42L379.6,284.63L381.59,286.69L383.57,288.61L385.56,290.39L387.54,292.02L389.52,293.52L391.51,294.88L393.49,296.12L395.48,297.24L397.46,298.26L399.44,299.19L401.43,300.02L403.41,300.78L405.4,301.46L407.38,302.08L409.36,302.65L411.35,303.18L413.33,303.66L415.32,304.12L417.3,304.54L419.28,304.94L421.27,305.29L423.25,305.62L425.24,305.91L427.22,306.16L429.2,306.39L431.19,306.57L433.17,306.72L435.16,306.83L437.14,306.91L439.12,306.95L441.11,306.96L443.09,306.92L445.08,306.85L447.06,306.73L449.04,306.58L451.03,306.4L453.01,306.17L455,305.91L456.98,305.62L458.96,305.31L460.95,304.96L462.93,304.58L464.92,304.19L466.9,303.77L468.88,303.32L470.87,302.86L472.85,302.39L474.84,301.89L476.82,301.39L478.8,300.87L480.79,300.34L482.77,299.81L484.76,299.27L486.74,298.72L488.72,298.18L490.71,297.63L492.69,297.08L494.68,296.53L496.66,295.97L498.64,295.42L500.63,294.87L502.61,294.32L504.6,293.77L506.58,293.22L508.56,292.68L510.55,292.13L512.53,291.59L514.52,291.06L516.5,290.52L518.48,289.99L520.47,289.47L522.45,288.95L524.44,288.44L526.42,287.93L528.4,287.43L530.39,286.94L532.37,286.45L534.36,285.97L536.34,285.5L538.32,285.04L540.31,284.59L542.29,284.14L544.28,283.71L546.26,283.05L548.24,282.23L550.23,282.08L552.21,281.95L554.2,281.82L556.18,281.71L558.16,281.6L560.15,280.83L562.13,279.85L564.12,279.32L566.1,279.24L568.08,279.17L570.07,279.1L572.05,279.04L574.04,278.99L576.02,278.05L578,277.11L579.99,276.85L581.97,276.81L583.96,276.77L585.94,276.74L587.92,276.71L589.91,276.68L591.89,275.76L593.88,274.84L595.86,274.59L597.84,274.56L599.83,274.53L601.81,274.5L603.8,274.47L605.78,274.22L607.76,273.29L609.75,272.36L611.73,272.32L613.72,272.28L615.7,272.23" fill="none" stroke="#3a449c" stroke-width="1.3"/>
<g fill="#e6e6f6" stroke="#3a449c" stroke-width="1.1"><path d="M218.9,302.99L221.1,299.14L216.7,299.14Z"/><path d="M220.88,290.87L223.08,287.02L218.68,287.02Z"/><path d="M222.87,280.7L225.07,276.85L220.67,276.85Z"/><path d="M224.85,271.83L227.05,267.98L222.65,267.98Z"/><path d="M226.84,263.63L229.04,259.78L224.64,259.78Z"/><path d="M228.82,255.63L231.02,251.78L226.62,251.78Z"/><path d="M230.8,247.38L233,243.53L228.6,243.53Z"/><path d="M232.79,238.6L234.99,234.75L230.59,234.75Z"/><path d="M234.77,229.81L236.97,225.96L232.57,225.96Z"/><path d="M236.76,221.67L238.96,217.82L234.56,217.82Z"/><path d="M238.74,214.66L240.94,210.81L236.54,210.81Z"/><path d="M240.72,208.37L242.92,204.52L238.52,204.52Z"/><path d="M242.71,202.17L244.91,198.32L240.51,198.32Z"/><path d="M244.69,195.61L246.89,191.76L242.49,191.76Z"/><path d="M246.68,189.02L248.88,185.17L244.48,185.17Z"/><path d="M248.66,182.92L250.86,179.07L246.46,179.07Z"/><path d="M250.64,177.68L252.84,173.83L248.44,173.83Z"/><path d="M252.63,173.15L254.83,169.3L250.43,169.3Z"/><path d="M254.61,169.05L256.81,165.2L252.41,165.2Z"/><path d="M256.6,165.11L258.8,161.26L254.4,161.26Z"/><path d="M258.58,161.25L260.78,157.4L256.38,157.4Z"/><path d="M260.56,157.56L262.76,153.71L258.36,153.71Z"/><path d="M262.55,154.14L264.75,150.29L260.35,150.29Z"/><path d="M264.53,151.09L266.73,147.24L262.33,147.24Z"/><path d="M266.52,148.35L268.72,144.5L264.32,144.5Z"/><path d="M268.5,145.85L270.7,142L266.3,142Z"/><path d="M270.48,143.55L272.68,139.7L268.28,139.7Z"/><path d="M272.47,141.53L274.67,137.68L270.27,137.68Z"/><path d="M274.45,139.93L276.65,136.08L272.25,136.08Z"/><path d="M276.44,138.86L278.64,135.01L274.24,135.01Z"/><path d="M278.42,138.4L280.62,134.55L276.22,134.55Z"/><path d="M280.4,138.43L282.6,134.58L278.2,134.58Z"/><path d="M282.39,138.78L284.59,134.93L280.19,134.93Z"/><path d="M284.37,139.26L286.57,135.41L282.17,135.41Z"/><path d="M286.36,139.76L288.56,135.91L284.16,135.91Z"/><path d="M288.34,140.38L290.54,136.53L286.14,136.53Z"/><path d="M290.32,141.29L292.52,137.44L288.12,137.44Z"/><path d="M292.31,142.65L294.51,138.8L290.11,138.8Z"/><path d="M294.29,144.56L296.49,140.71L292.09,140.71Z"/><path d="M296.28,146.94L298.48,143.09L294.08,143.09Z"/><path d="M298.26,149.65L300.46,145.8L296.06,145.8Z"/><path d="M300.24,152.54L302.44,148.69L298.04,148.69Z"/><path d="M302.23,155.5L304.43,151.65L300.03,151.65Z"/><path d="M304.21,158.49L306.41,154.64L302.01,154.64Z"/><path d="M306.2,161.49L308.4,157.64L304,157.64Z"/><path d="M308.18,164.49L310.38,160.64L305.98,160.64Z"/><path d="M310.16,167.48L312.36,163.63L307.96,163.63Z"/><path d="M312.15,170.51L314.35,166.66L309.95,166.66Z"/><path d="M314.13,173.64L316.33,169.79L311.93,169.79Z"/><path d="M316.12,176.92L318.32,173.07L313.92,173.07Z"/><path d="M318.1,180.41L320.3,176.56L315.9,176.56Z"/><path d="M320.08,184.14L322.28,180.29L317.88,180.29Z"/><path d="M322.07,188.07L324.27,184.22L319.87,184.22Z"/><path d="M324.05,192.11L326.25,188.26L321.85,188.26Z"/><path d="M326.04,196.19L328.24,192.34L323.84,192.34Z"/><path d="M328.02,200.23L330.22,196.38L325.82,196.38Z"/><path d="M330,204.17L332.2,200.32L327.8,200.32Z"/><path d="M331.99,208.01L334.19,204.16L329.79,204.16Z"/><path d="M333.97,211.76L336.17,207.91L331.77,207.91Z"/><path d="M335.96,215.44L338.16,211.59L333.76,211.59Z"/><path d="M337.94,219.07L340.14,215.22L335.74,215.22Z"/><path d="M339.92,222.66L342.12,218.81L337.72,218.81Z"/><path d="M341.91,226.22L344.11,222.37L339.71,222.37Z"/><path d="M343.89,229.77L346.09,225.92L341.69,225.92Z"/><path d="M345.88,233.33L348.08,229.48L343.68,229.48Z"/><path d="M347.86,236.91L350.06,233.06L345.66,233.06Z"/><path d="M349.84,240.53L352.04,236.68L347.64,236.68Z"/><path d="M351.83,244.16L354.03,240.31L349.63,240.31Z"/><path d="M353.81,247.78L356.01,243.93L351.61,243.93Z"/><path d="M355.8,251.39L358,247.54L353.6,247.54Z"/><path d="M357.78,254.96L359.98,251.11L355.58,251.11Z"/><path d="M359.76,258.48L361.96,254.63L357.56,254.63Z"/><path d="M361.75,261.91L363.95,258.06L359.55,258.06Z"/><path d="M363.73,265.26L365.93,261.41L361.53,261.41Z"/><path d="M365.72,268.48L367.92,264.63L363.52,264.63Z"/><path d="M367.7,271.58L369.9,267.73L365.5,267.73Z"/><path d="M369.68,274.53L371.88,270.68L367.48,270.68Z"/><path d="M371.67,277.32L373.87,273.47L369.47,273.47Z"/><path d="M373.65,279.97L375.85,276.12L371.45,276.12Z"/><path d="M375.64,282.47L377.84,278.62L373.44,278.62Z"/><path d="M377.62,284.82L379.82,280.97L375.42,280.97Z"/><path d="M379.6,287.03L381.8,283.18L377.4,283.18Z"/><path d="M381.59,289.09L383.79,285.24L379.39,285.24Z"/><path d="M383.57,291.01L385.77,287.16L381.37,287.16Z"/><path d="M385.56,292.79L387.76,288.94L383.36,288.94Z"/><path d="M387.54,294.42L389.74,290.57L385.34,290.57Z"/><path d="M389.52,295.92L391.72,292.07L387.32,292.07Z"/><path d="M391.51,297.28L393.71,293.43L389.31,293.43Z"/><path d="M393.49,298.52L395.69,294.67L391.29,294.67Z"/><path d="M395.48,299.64L397.68,295.79L393.28,295.79Z"/><path d="M397.46,300.66L399.66,296.81L395.26,296.81Z"/><path d="M399.44,301.59L401.64,297.74L397.24,297.74Z"/><path d="M401.43,302.42L403.63,298.57L399.23,298.57Z"/><path d="M403.41,303.18L405.61,299.33L401.21,299.33Z"/><path d="M405.4,303.86L407.6,300.01L403.2,300.01Z"/><path d="M407.38,304.48L409.58,300.63L405.18,300.63Z"/><path d="M409.36,305.05L411.56,301.2L407.16,301.2Z"/><path d="M411.35,305.58L413.55,301.73L409.15,301.73Z"/><path d="M413.33,306.06L415.53,302.21L411.13,302.21Z"/><path d="M415.32,306.52L417.52,302.67L413.12,302.67Z"/><path d="M417.3,306.94L419.5,303.09L415.1,303.09Z"/><path d="M419.28,307.34L421.48,303.49L417.08,303.49Z"/><path d="M421.27,307.69L423.47,303.84L419.07,303.84Z"/><path d="M423.25,308.02L425.45,304.17L421.05,304.17Z"/><path d="M425.24,308.31L427.44,304.46L423.04,304.46Z"/><path d="M427.22,308.56L429.42,304.71L425.02,304.71Z"/><path d="M429.2,308.79L431.4,304.94L427,304.94Z"/><path d="M431.19,308.97L433.39,305.12L428.99,305.12Z"/><path d="M433.17,309.12L435.37,305.27L430.97,305.27Z"/><path d="M435.16,309.23L437.36,305.38L432.96,305.38Z"/><path d="M437.14,309.31L439.34,305.46L434.94,305.46Z"/><path d="M439.12,309.35L441.32,305.5L436.92,305.5Z"/><path d="M441.11,309.36L443.31,305.51L438.91,305.51Z"/><path d="M443.09,309.32L445.29,305.47L440.89,305.47Z"/><path d="M445.08,309.25L447.28,305.4L442.88,305.4Z"/><path d="M447.06,309.13L449.26,305.28L444.86,305.28Z"/><path d="M449.04,308.98L451.24,305.13L446.84,305.13Z"/><path d="M451.03,308.8L453.23,304.95L448.83,304.95Z"/><path d="M453.01,308.57L455.21,304.72L450.81,304.72Z"/><path d="M455,308.31L457.2,304.46L452.8,304.46Z"/><path d="M456.98,308.02L459.18,304.17L454.78,304.17Z"/><path d="M458.96,307.71L461.16,303.86L456.76,303.86Z"/><path d="M460.95,307.36L463.15,303.51L458.75,303.51Z"/><path d="M462.93,306.98L465.13,303.13L460.73,303.13Z"/><path d="M464.92,306.59L467.12,302.74L462.72,302.74Z"/><path d="M466.9,306.17L469.1,302.32L464.7,302.32Z"/><path d="M468.88,305.72L471.08,301.87L466.68,301.87Z"/><path d="M470.87,305.26L473.07,301.41L468.67,301.41Z"/><path d="M472.85,304.79L475.05,300.94L470.65,300.94Z"/><path d="M474.84,304.29L477.04,300.44L472.64,300.44Z"/><path d="M476.82,303.79L479.02,299.94L474.62,299.94Z"/><path d="M478.8,303.27L481,299.42L476.6,299.42Z"/><path d="M480.79,302.74L482.99,298.89L478.59,298.89Z"/><path d="M482.77,302.21L484.97,298.36L480.57,298.36Z"/><path d="M484.76,301.67L486.96,297.82L482.56,297.82Z"/><path d="M486.74,301.12L488.94,297.27L484.54,297.27Z"/><path d="M488.72,300.58L490.92,296.73L486.52,296.73Z"/><path d="M490.71,300.03L492.91,296.18L488.51,296.18Z"/><path d="M492.69,299.48L494.89,295.63L490.49,295.63Z"/><path d="M494.68,298.93L496.88,295.08L492.48,295.08Z"/><path d="M496.66,298.37L498.86,294.52L494.46,294.52Z"/><path d="M498.64,297.82L500.84,293.97L496.44,293.97Z"/><path d="M500.63,297.27L502.83,293.42L498.43,293.42Z"/><path d="M502.61,296.72L504.81,292.87L500.41,292.87Z"/><path d="M504.6,296.17L506.8,292.32L502.4,292.32Z"/><path d="M506.58,295.62L508.78,291.77L504.38,291.77Z"/><path d="M508.56,295.08L510.76,291.23L506.36,291.23Z"/><path d="M510.55,294.53L512.75,290.68L508.35,290.68Z"/><path d="M512.53,293.99L514.73,290.14L510.33,290.14Z"/><path d="M514.52,293.46L516.72,289.61L512.32,289.61Z"/><path d="M516.5,292.92L518.7,289.07L514.3,289.07Z"/><path d="M518.48,292.39L520.68,288.54L516.28,288.54Z"/><path d="M520.47,291.87L522.67,288.02L518.27,288.02Z"/><path d="M522.45,291.35L524.65,287.5L520.25,287.5Z"/><path d="M524.44,290.84L526.64,286.99L522.24,286.99Z"/><path d="M526.42,290.33L528.62,286.48L524.22,286.48Z"/><path d="M528.4,289.83L530.6,285.98L526.2,285.98Z"/><path d="M530.39,289.34L532.59,285.49L528.19,285.49Z"/><path d="M532.37,288.85L534.57,285L530.17,285Z"/><path d="M534.36,288.37L536.56,284.52L532.16,284.52Z"/><path d="M536.34,287.9L538.54,284.05L534.14,284.05Z"/><path d="M538.32,287.44L540.52,283.59L536.12,283.59Z"/><path d="M540.31,286.99L542.51,283.14L538.11,283.14Z"/><path d="M542.29,286.54L544.49,282.69L540.09,282.69Z"/><path d="M544.28,286.11L546.48,282.26L542.08,282.26Z"/><path d="M546.26,285.45L548.46,281.6L544.06,281.6Z"/><path d="M548.24,284.63L550.44,280.78L546.04,280.78Z"/><path d="M550.23,284.48L552.43,280.63L548.03,280.63Z"/><path d="M552.21,284.35L554.41,280.5L550.01,280.5Z"/><path d="M554.2,284.22L556.4,280.37L552,280.37Z"/><path d="M556.18,284.11L558.38,280.26L553.98,280.26Z"/><path d="M558.16,284L560.36,280.15L555.96,280.15Z"/><path d="M560.15,283.23L562.35,279.38L557.95,279.38Z"/><path d="M562.13,282.25L564.33,278.4L559.93,278.4Z"/><path d="M564.12,281.72L566.32,277.87L561.92,277.87Z"/><path d="M566.1,281.64L568.3,277.79L563.9,277.79Z"/><path d="M568.08,281.57L570.28,277.72L565.88,277.72Z"/><path d="M570.07,281.5L572.27,277.65L567.87,277.65Z"/><path d="M572.05,281.44L574.25,277.59L569.85,277.59Z"/><path d="M574.04,281.39L576.24,277.54L571.84,277.54Z"/><path d="M576.02,280.45L578.22,276.6L573.82,276.6Z"/><path d="M578,279.51L580.2,275.66L575.8,275.66Z"/><path d="M579.99,279.25L582.19,275.4L577.79,275.4Z"/><path d="M581.97,279.21L584.17,275.36L579.77,275.36Z"/><path d="M583.96,279.17L586.16,275.32L581.76,275.32Z"/><path d="M585.94,279.14L588.14,275.29L583.74,275.29Z"/><path d="M587.92,279.11L590.12,275.26L585.72,275.26Z"/><path d="M589.91,279.08L592.11,275.23L587.71,275.23Z"/><path d="M591.89,278.16L594.09,274.31L589.69,274.31Z"/><path d="M593.88,277.24L596.08,273.39L591.68,273.39Z"/><path d="M595.86,276.99L598.06,273.14L593.66,273.14Z"/><path d="M597.84,276.96L600.04,273.11L595.64,273.11Z"/><path d="M599.83,276.93L602.03,273.08L597.63,273.08Z"/><path d="M601.81,276.9L604.01,273.05L599.61,273.05Z"/><path d="M603.8,276.87L606,273.02L601.6,273.02Z"/><path d="M605.78,276.62L607.98,272.77L603.58,272.77Z"/><path d="M607.76,275.69L609.96,271.84L605.56,271.84Z"/><path d="M609.75,274.76L611.95,270.91L607.55,270.91Z"/><path d="M611.73,274.72L613.93,270.87L609.53,270.87Z"/><path d="M613.72,274.68L615.92,270.83L611.52,270.83Z"/><path d="M615.7,274.63L617.9,270.78L613.5,270.78Z"/></g>
<path d="M218.9,320.03L220.88,315.25L222.87,307.22L224.85,298.06L226.84,289.45L228.82,281.35L230.8,273.25L232.79,264.84L234.77,256.42L236.76,248.45L238.74,241.25L240.72,234.59L242.71,228.11L244.69,221.53L246.68,215.01L248.66,208.8L250.64,203.11L252.63,197.85L254.61,192.91L256.6,188.16L258.58,183.61L260.56,179.4L262.55,175.69L264.53,172.57L266.52,169.94L268.5,167.66L270.48,165.61L272.47,163.81L274.45,162.3L276.44,161.11L278.42,160.27L280.4,159.76L282.39,159.52L284.37,159.52L286.36,159.73L288.34,160.16L290.32,160.86L292.31,161.87L294.29,163.21L296.28,164.83L298.26,166.64L300.24,168.58L302.23,170.59L304.21,172.69L306.2,174.93L308.18,177.34L310.16,179.95L312.15,182.73L314.13,185.65L316.12,188.66L318.1,191.72L320.08,194.79L322.07,197.89L324.05,201.02L326.04,204.2L328.02,207.43L330,210.72L331.99,214.06L333.97,217.44L335.96,220.83L337.94,224.23L339.92,227.61L341.91,230.96L343.89,234.27L345.88,237.52L347.86,240.68L349.84,243.76L351.83,246.75L353.81,249.64L355.8,252.45L357.78,255.18L359.76,257.83L361.75,260.39L363.73,262.88L365.72,265.3L367.7,267.64L369.68,269.91L371.67,272.11L373.65,274.24L375.64,276.3L377.62,278.28L379.6,280.19L381.59,282.02L383.57,283.77L385.56,285.44L387.54,287.04L389.52,288.55L391.51,289.98L393.49,291.34L395.48,292.61L397.46,293.81L399.44,294.93L401.43,295.98L403.41,296.96L405.4,297.87L407.38,298.7L409.36,299.47L411.35,300.17L413.33,300.8L415.32,301.36L417.3,301.87L419.28,302.31L421.27,302.7L423.25,303.03L425.24,303.31L427.22,303.54L429.2,303.72L431.19,303.86L433.17,303.95L435.16,304.01L437.14,304.03L439.12,304.01L441.11,303.96L443.09,303.88L445.08,303.77L447.06,303.64L449.04,303.49L451.03,303.31L453.01,303.12L455,302.9L456.98,302.67L458.96,302.42L460.95,302.15L462.93,301.87L464.92,301.57L466.9,301.26L468.88,300.94L470.87,300.6L472.85,300.25L474.84,299.9L476.82,299.53L478.8,299.15L480.79,298.77L482.77,298.38L484.76,297.99L486.74,297.59L488.72,297.19L490.71,296.78L492.69,296.38L494.68,295.97L496.66,295.55L498.64,295.14L500.63,294.72L502.61,294.3L504.6,293.88L506.58,293.46L508.56,293.04L510.55,292.62L512.53,292.19L514.52,291.77L516.5,291.35L518.48,290.93L520.47,290.51L522.45,290.09L524.44,289.67L526.42,289.26L528.4,288.84L530.39,288.43L532.37,288.02L534.36,287.62L536.34,287.21L538.32,286.81L540.31,286.42L542.29,286.03L544.28,285.64L546.26,285.5L548.24,284.74L550.23,284.12L552.21,283.9L554.2,283.7L556.18,283.49L558.16,283.29L560.15,283.1L562.13,282.51L564.12,281.8L566.1,281.35L568.08,281.18L570.07,281.02L572.05,280.86L574.04,280.7L576.02,280.55L578,279.88L579.99,279.34L581.97,278.95L583.96,278.82L585.94,278.71L587.92,278.6L589.91,278.49L591.89,278.39L593.88,277.77L595.86,277.15L597.84,276.94L599.83,276.87L601.81,276.81L603.8,276.75L605.78,276.7L607.76,276.52L609.75,275.95L611.73,275.39L613.72,275.37L615.7,275.36" fill="none" stroke="#904c44" stroke-width="1.3"/>
<g fill="#f8ecea" stroke="#904c44" stroke-width="1.1"><rect x="217.4" y="318.53" width="3" height="3"/><rect x="219.38" y="313.75" width="3" height="3"/><rect x="221.37" y="305.72" width="3" height="3"/><rect x="223.35" y="296.56" width="3" height="3"/><rect x="225.34" y="287.95" width="3" height="3"/><rect x="227.32" y="279.85" width="3" height="3"/><rect x="229.3" y="271.75" width="3" height="3"/><rect x="231.29" y="263.34" width="3" height="3"/><rect x="233.27" y="254.92" width="3" height="3"/><rect x="235.26" y="246.95" width="3" height="3"/><rect x="237.24" y="239.75" width="3" height="3"/><rect x="239.22" y="233.09" width="3" height="3"/><rect x="241.21" y="226.61" width="3" height="3"/><rect x="243.19" y="220.03" width="3" height="3"/><rect x="245.18" y="213.51" width="3" height="3"/><rect x="247.16" y="207.3" width="3" height="3"/><rect x="249.14" y="201.61" width="3" height="3"/><rect x="251.13" y="196.35" width="3" height="3"/><rect x="253.11" y="191.41" width="3" height="3"/><rect x="255.1" y="186.66" width="3" height="3"/><rect x="257.08" y="182.11" width="3" height="3"/><rect x="259.06" y="177.9" width="3" height="3"/><rect x="261.05" y="174.19" width="3" height="3"/><rect x="263.03" y="171.07" width="3" height="3"/><rect x="265.02" y="168.44" width="3" height="3"/><rect x="267" y="166.16" width="3" height="3"/><rect x="268.98" y="164.11" width="3" height="3"/><rect x="270.97" y="162.31" width="3" height="3"/><rect x="272.95" y="160.8" width="3" height="3"/><rect x="274.94" y="159.61" width="3" height="3"/><rect x="276.92" y="158.77" width="3" height="3"/><rect x="278.9" y="158.26" width="3" height="3"/><rect x="280.89" y="158.02" width="3" height="3"/><rect x="282.87" y="158.02" width="3" height="3"/><rect x="284.86" y="158.23" width="3" height="3"/><rect x="286.84" y="158.66" width="3" height="3"/><rect x="288.82" y="159.36" width="3" height="3"/><rect x="290.81" y="160.37" width="3" height="3"/><rect x="292.79" y="161.71" width="3" height="3"/><rect x="294.78" y="163.33" width="3" height="3"/><rect x="296.76" y="165.14" width="3" height="3"/><rect x="298.74" y="167.08" width="3" height="3"/><rect x="300.73" y="169.09" width="3" height="3"/><rect x="302.71" y="171.19" width="3" height="3"/><rect x="304.7" y="173.43" width="3" height="3"/><rect x="306.68" y="175.84" width="3" height="3"/><rect x="308.66" y="178.45" width="3" height="3"/><rect x="310.65" y="181.23" width="3" height="3"/><rect x="312.63" y="184.15" width="3" height="3"/><rect x="314.62" y="187.16" width="3" height="3"/><rect x="316.6" y="190.22" width="3" height="3"/><rect x="318.58" y="193.29" width="3" height="3"/><rect x="320.57" y="196.39" width="3" height="3"/><rect x="322.55" y="199.52" width="3" height="3"/><rect x="324.54" y="202.7" width="3" height="3"/><rect x="326.52" y="205.93" width="3" height="3"/><rect x="328.5" y="209.22" width="3" height="3"/><rect x="330.49" y="212.56" width="3" height="3"/><rect x="332.47" y="215.94" width="3" height="3"/><rect x="334.46" y="219.33" width="3" height="3"/><rect x="336.44" y="222.73" width="3" height="3"/><rect x="338.42" y="226.11" width="3" height="3"/><rect x="340.41" y="229.46" width="3" height="3"/><rect x="342.39" y="232.77" width="3" height="3"/><rect x="344.38" y="236.02" width="3" height="3"/><rect x="346.36" y="239.18" width="3" height="3"/><rect x="348.34" y="242.26" width="3" height="3"/><rect x="350.33" y="245.25" width="3" height="3"/><rect x="352.31" y="248.14" width="3" height="3"/><rect x="354.3" y="250.95" width="3" height="3"/><rect x="356.28" y="253.68" width="3" height="3"/><rect x="358.26" y="256.33" width="3" height="3"/><rect x="360.25" y="258.89" width="3" height="3"/><rect x="362.23" y="261.38" width="3" height="3"/><rect x="364.22" y="263.8" width="3" height="3"/><rect x="366.2" y="266.14" width="3" height="3"/><rect x="368.18" y="268.41" width="3" height="3"/><rect x="370.17" y="270.61" width="3" height="3"/><rect x="372.15" y="272.74" width="3" height="3"/><rect x="374.14" y="274.8" width="3" height="3"/><rect x="376.12" y="276.78" width="3" height="3"/><rect x="378.1" y="278.69" width="3" height="3"/><rect x="380.09" y="280.52" width="3" height="3"/><rect x="382.07" y="282.27" width="3" height="3"/><rect x="384.06" y="283.94" width="3" height="3"/><rect x="386.04" y="285.54" width="3" height="3"/><rect x="388.02" y="287.05" width="3" height="3"/><rect x="390.01" y="288.48" width="3" height="3"/><rect x="391.99" y="289.84" width="3" height="3"/><rect x="393.98" y="291.11" width="3" height="3"/><rect x="395.96" y="292.31" width="3" height="3"/><rect x="397.94" y="293.43" width="3" height="3"/><rect x="399.93" y="294.48" width="3" height="3"/><rect x="401.91" y="295.46" width="3" height="3"/><rect x="403.9" y="296.37" width="3" height="3"/><rect x="405.88" y="297.2" width="3" height="3"/><rect x="407.86" y="297.97" width="3" height="3"/><rect x="409.85" y="298.67" width="3" height="3"/><rect x="411.83" y="299.3" width="3" height="3"/><rect x="413.82" y="299.86" width="3" height="3"/><rect x="415.8" y="300.37" width="3" height="3"/><rect x="417.78" y="300.81" width="3" height="3"/><rect x="419.77" y="301.2" width="3" height="3"/><rect x="421.75" y="301.53" width="3" height="3"/><rect x="423.74" y="301.81" width="3" height="3"/><rect x="425.72" y="302.04" width="3" height="3"/><rect x="427.7" y="302.22" width="3" height="3"/><rect x="429.69" y="302.36" width="3" height="3"/><rect x="431.67" y="302.45" width="3" height="3"/><rect x="433.66" y="302.51" width="3" height="3"/><rect x="435.64" y="302.53" width="3" height="3"/><rect x="437.62" y="302.51" width="3" height="3"/><rect x="439.61" y="302.46" width="3" height="3"/><rect x="441.59" y="302.38" width="3" height="3"/><rect x="443.58" y="302.27" width="3" height="3"/><rect x="445.56" y="302.14" width="3" height="3"/><rect x="447.54" y="301.99" width="3" height="3"/><rect x="449.53" y="301.81" width="3" height="3"/><rect x="451.51" y="301.62" width="3" height="3"/><rect x="453.5" y="301.4" width="3" height="3"/><rect x="455.48" y="301.17" width="3" height="3"/><rect x="457.46" y="300.92" width="3" height="3"/><rect x="459.45" y="300.65" width="3" height="3"/><rect x="461.43" y="300.37" width="3" height="3"/><rect x="463.42" y="300.07" width="3" height="3"/><rect x="465.4" y="299.76" width="3" height="3"/><rect x="467.38" y="299.44" width="3" height="3"/><rect x="469.37" y="299.1" width="3" height="3"/><rect x="471.35" y="298.75" width="3" height="3"/><rect x="473.34" y="298.4" width="3" height="3"/><rect x="475.32" y="298.03" width="3" height="3"/><rect x="477.3" y="297.65" width="3" height="3"/><rect x="479.29" y="297.27" width="3" height="3"/><rect x="481.27" y="296.88" width="3" height="3"/><rect x="483.26" y="296.49" width="3" height="3"/><rect x="485.24" y="296.09" width="3" height="3"/><rect x="487.22" y="295.69" width="3" height="3"/><rect x="489.21" y="295.28" width="3" height="3"/><rect x="491.19" y="294.88" width="3" height="3"/><rect x="493.18" y="294.47" width="3" height="3"/><rect x="495.16" y="294.05" width="3" height="3"/><rect x="497.14" y="293.64" width="3" height="3"/><rect x="499.13" y="293.22" width="3" height="3"/><rect x="501.11" y="292.8" width="3" height="3"/><rect x="503.1" y="292.38" width="3" height="3"/><rect x="505.08" y="291.96" width="3" height="3"/><rect x="507.06" y="291.54" width="3" height="3"/><rect x="509.05" y="291.12" width="3" height="3"/><rect x="511.03" y="290.69" width="3" height="3"/><rect x="513.02" y="290.27" width="3" height="3"/><rect x="515" y="289.85" width="3" height="3"/><rect x="516.98" y="289.43" width="3" height="3"/><rect x="518.97" y="289.01" width="3" height="3"/><rect x="520.95" y="288.59" width="3" height="3"/><rect x="522.94" y="288.17" width="3" height="3"/><rect x="524.92" y="287.76" width="3" height="3"/><rect x="526.9" y="287.34" width="3" height="3"/><rect x="528.89" y="286.93" width="3" height="3"/><rect x="530.87" y="286.52" width="3" height="3"/><rect x="532.86" y="286.12" width="3" height="3"/><rect x="534.84" y="285.71" width="3" height="3"/><rect x="536.82" y="285.31" width="3" height="3"/><rect x="538.81" y="284.92" width="3" height="3"/><rect x="540.79" y="284.53" width="3" height="3"/><rect x="542.78" y="284.14" width="3" height="3"/><rect x="544.76" y="284" width="3" height="3"/><rect x="546.74" y="283.24" width="3" height="3"/><rect x="548.73" y="282.62" width="3" height="3"/><rect x="550.71" y="282.4" width="3" height="3"/><rect x="552.7" y="282.2" width="3" height="3"/><rect x="554.68" y="281.99" width="3" height="3"/><rect x="556.66" y="281.79" width="3" height="3"/><rect x="558.65" y="281.6" width="3" height="3"/><rect x="560.63" y="281.01" width="3" height="3"/><rect x="562.62" y="280.3" width="3" height="3"/><rect x="564.6" y="279.85" width="3" height="3"/><rect x="566.58" y="279.68" width="3" height="3"/><rect x="568.57" y="279.52" width="3" height="3"/><rect x="570.55" y="279.36" width="3" height="3"/><rect x="572.54" y="279.2" width="3" height="3"/><rect x="574.52" y="279.05" width="3" height="3"/><rect x="576.5" y="278.38" width="3" height="3"/><rect x="578.49" y="277.84" width="3" height="3"/><rect x="580.47" y="277.45" width="3" height="3"/><rect x="582.46" y="277.32" width="3" height="3"/><rect x="584.44" y="277.21" width="3" height="3"/><rect x="586.42" y="277.1" width="3" height="3"/><rect x="588.41" y="276.99" width="3" height="3"/><rect x="590.39" y="276.89" width="3" height="3"/><rect x="592.38" y="276.27" width="3" height="3"/><rect x="594.36" y="275.65" width="3" height="3"/><rect x="596.34" y="275.44" width="3" height="3"/><rect x="598.33" y="275.37" width="3" height="3"/><rect x="600.31" y="275.31" width="3" height="3"/><rect x="602.3" y="275.25" width="3" height="3"/><rect x="604.28" y="275.2" width="3" height="3"/><rect x="606.26" y="275.02" width="3" height="3"/><rect x="608.25" y="274.45" width="3" height="3"/><rect x="610.23" y="273.89" width="3" height="3"/><rect x="612.22" y="273.87" width="3" height="3"/><rect x="614.2" y="273.86" width="3" height="3"/></g>
</g>
<rect x="218.9" y="40.5" width="396.8" height="276.9" fill="none" stroke="#3e3e3e" stroke-width="1.3"/>
<text x="218.9" y="334.3" text-anchor="middle" font-size="14.3" fill="#333333">350</text>
<text x="268.5" y="334.3" text-anchor="middle" font-size="14.3" fill="#333333">400</text>
<text x="318.1" y="334.3" text-anchor="middle" font-size="14.3" fill="#333333">450</text>
<text x="367.7" y="334.3" text-anchor="middle" font-size="14.3" fill="#333333">500</text>
<text x="417.3" y="334.3" text-anchor="middle" font-size="14.3" fill="#333333">550</text>
<text x="466.9" y="334.3" text-anchor="middle" font-size="14.3" fill="#333333">600</text>
<text x="516.5" y="334.3" text-anchor="middle" font-size="14.3" fill="#333333">650</text>
<text x="566.1" y="334.3" text-anchor="middle" font-size="14.3" fill="#333333">700</text>
<text x="615.7" y="334.3" text-anchor="middle" font-size="14.3" fill="#333333">750</text>
<text x="417" y="355.8" text-anchor="middle" font-size="15.8" letter-spacing="0.21" fill="#333333">Wavelength (nm)</text>
<text transform="translate(206,181.7) rotate(-90)" text-anchor="middle" font-size="15.8" letter-spacing="0.1" fill="#333333">Absorbance (a.u.)</text>
<path d="M372.5,65.9H405.9" stroke="#62b089" stroke-width="1.6"/>
<g fill="#fafafa" stroke="#26a060" stroke-width="1.1"><circle cx="389.3" cy="65.9" r="2"/></g>
<text x="409" y="70.8" font-size="14" letter-spacing="0.07" fill="#333333">10 nm Ag NSs (Peak: 408 nm)</text>
<path d="M372.5,82.37H405.9" stroke="#c04850" stroke-width="1.3"/>
<g fill="#fafafa" stroke="#dc3e48" stroke-width="1.1"><path d="M389.3,79.47L391.8,83.17L386.8,83.17Z"/></g>
<text x="409" y="87.27" font-size="14" letter-spacing="0.07" fill="#333333">20 nm Ag NSs (Peak: 410 nm)</text>
<path d="M372.5,98.84H405.9" stroke="#6a72b4" stroke-width="2.0"/>
<g fill="#fafafa" stroke="#3a449c" stroke-width="1.1"><path d="M389.3,101.44L391.8,97.64L386.8,97.64Z"/></g>
<text x="409" y="103.74" font-size="14" letter-spacing="0.07" fill="#333333">30 nm Ag NSs (Peak: 414 nm)</text>
<path d="M372.5,115.31H405.9" stroke="#804540" stroke-width="1.3"/>
<g fill="#fafafa" stroke="#904c44" stroke-width="1.1"><rect x="387.3" y="113.31" width="4" height="4"/></g>
<text x="409" y="120.21" font-size="14" letter-spacing="0.07" fill="#333333">40 nm Ag NSs (Peak: 416 nm)</text>
<rect x="616.4" y="268.4" width="4.6" height="13.2" fill="#ffffff"/>
<rect x="620" y="270" width="1" height="1" fill="#c8c8e0"/><rect x="620" y="278" width="1" height="1" fill="#f0c8b8"/>
<rect x="0" y="0" width="820" height="1" fill="#f8f8f8"/><rect x="0" y="0" width="1" height="399" fill="#f8f8f8"/>
</svg>
</body></html>
